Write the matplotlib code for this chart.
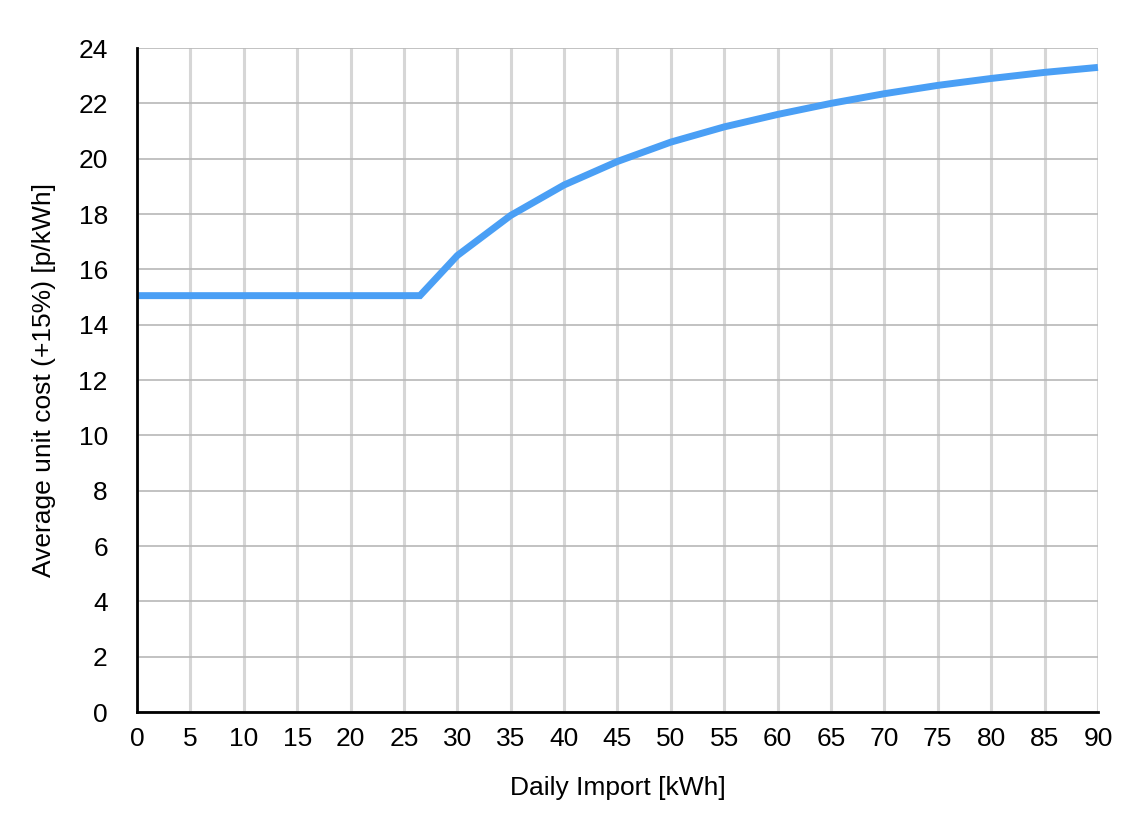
import numpy as np
import matplotlib.pyplot as plt

plt.rcParams['font.family'] = ['Liberation Sans', 'DejaVu Sans']

# daily import [kWh] and average unit cost [p/kWh]
daily_import = [0, 26.5, 30, 35, 40, 45, 50, 55, 60, 65, 70, 75, 80, 85, 90]
unit_cost = [15.05, 15.05, 16.5, 17.95, 19.05, 19.9, 20.6, 21.15, 21.6, 22.0,
             22.35, 22.65, 22.9, 23.12, 23.3]

x_ticks = list(range(0, 91, 5))
y_ticks = list(range(0, 25, 2))

fig = plt.figure(figsize=(11.36, 8.24), dpi=100)
ax = fig.add_axes([0.1206, 0.1359, 0.8459, 0.8058])

ax.plot(daily_import, unit_cost, color='#4a9ff5', lw=5, solid_joinstyle='miter',
        solid_capstyle='butt', zorder=3, clip_on=False)

ax.set_xlim(0, 90)
ax.set_ylim(0, 24)
ax.set_xticks(x_ticks)
ax.set_yticks(y_ticks)
ax.tick_params(length=0, labelsize=19)
ax.tick_params(axis='x', pad=11)
ax.tick_params(axis='y', pad=21)

ax.grid(axis='x', color='#d6d6d6', lw=2.2)
ax.grid(axis='y', color='#b8b8b8', lw=1.2)
ax.set_axisbelow(True)

for s in ['top', 'right']:
    ax.spines[s].set_visible(False)
for s in ['left', 'bottom']:
    ax.spines[s].set_linewidth(2)
    ax.spines[s].set_color('black')
    ax.spines[s].set_zorder(4)

ax.set_xlabel('Daily Import [kWh]', fontsize=19, labelpad=18)
ax.set_ylabel('Average unit cost (+15%) [p/kWh]', fontsize=19, labelpad=16)

fig.savefig('out.png')
